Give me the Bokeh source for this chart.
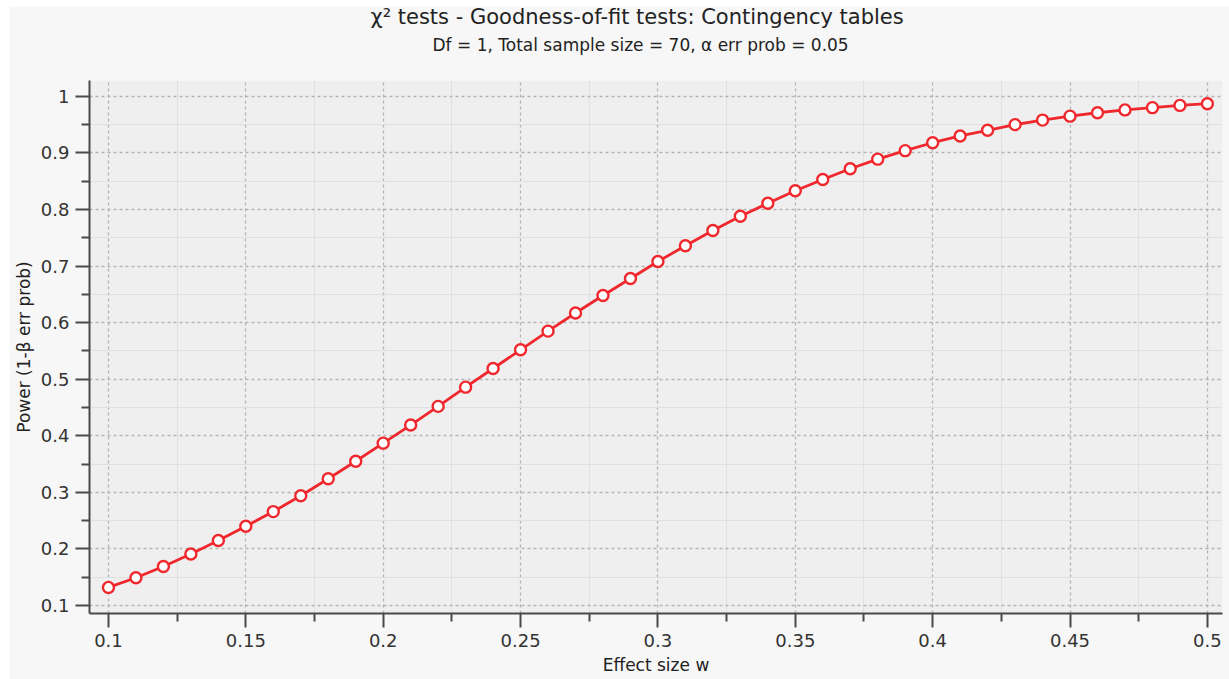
from bokeh.plotting import figure
from bokeh.models import Range1d, FixedTicker, NumeralTickFormatter, Title, Spacer
from bokeh.layouts import column, row
from bokeh.embed import file_html
from bokeh.resources import INLINE

effect_size = [0.10, 0.11, 0.12, 0.13, 0.14, 0.15, 0.16, 0.17, 0.18, 0.19,
               0.20, 0.21, 0.22, 0.23, 0.24, 0.25, 0.26, 0.27, 0.28, 0.29,
               0.30, 0.31, 0.32, 0.33, 0.34, 0.35, 0.36, 0.37, 0.38, 0.39,
               0.40, 0.41, 0.42, 0.43, 0.44, 0.45, 0.46, 0.47, 0.48, 0.49, 0.50]
power = [0.132, 0.149, 0.169, 0.191, 0.215, 0.240, 0.266, 0.294, 0.324, 0.355,
         0.387, 0.419, 0.452, 0.486, 0.519, 0.552, 0.585, 0.617, 0.648, 0.678,
         0.708, 0.736, 0.763, 0.788, 0.811, 0.833, 0.853, 0.872, 0.889, 0.904,
         0.918, 0.930, 0.940, 0.950, 0.958, 0.965, 0.971, 0.976, 0.980, 0.984, 0.987]

x_ticks = [0.1, 0.15, 0.2, 0.25, 0.3, 0.35, 0.4, 0.45, 0.5]
x_minor = [0.125, 0.175, 0.225, 0.275, 0.325, 0.375, 0.425, 0.475]
y_ticks = [0.1, 0.2, 0.3, 0.4, 0.5, 0.6, 0.7, 0.8, 0.9, 1.0]
y_minor = [0.15, 0.25, 0.35, 0.45, 0.55, 0.65, 0.75, 0.85, 0.95]

main_title = "\u03c7\u00b2 tests - Goodness-of-fit tests: Contingency tables"
sub_title = "Df = 1, Total sample size = 70, \u03b1 err prob = 0.05"

FONT = "DejaVu Sans"
RED = "#f0282d"
AXIS = "#4a4a4a"

p = figure(width=1220, height=673, output_backend="svg", toolbar_location=None,
           title=None,
           x_range=Range1d(0.0931, 0.5055), y_range=Range1d(0.0859, 1.028),
           min_border_left=80, min_border_right=7, min_border_top=74,
           min_border_bottom=66)

# blank gap between the plot frame and the subtitle
p.add_layout(Title(text=" ", text_font=FONT, text_font_size="10px",
                   standoff=3), "above")
p.add_layout(Title(text=sub_title, align="left", offset=343, text_font=FONT,
                   text_font_size="17px", text_font_style="normal",
                   text_color="#222222", standoff=20), "above")
p.add_layout(Title(text=main_title, align="left", offset=281, text_font=FONT,
                   text_font_size="21px", text_font_style="normal",
                   text_color="#222222", standoff=-13.5), "above")

p.background_fill_color = "#efefef"
p.border_fill_color = "#f7f7f7"
p.outline_line_color = None

for ax in (p.xaxis[0], p.yaxis[0]):
    ax.axis_line_color = AXIS
    ax.axis_line_width = 2
    ax.major_tick_line_color = AXIS
    ax.major_tick_line_width = 2
    ax.minor_tick_line_color = AXIS
    ax.minor_tick_line_width = 2
    ax.major_tick_in = 0
    ax.major_tick_out = 14
    ax.minor_tick_in = 0
    ax.minor_tick_out = 8
    ax.major_label_text_font = FONT
    ax.major_label_text_font_size = "18px"
    ax.major_label_text_color = "#333333"
    ax.axis_label_text_font = FONT
    ax.axis_label_text_font_size = "17px"
    ax.axis_label_text_font_style = "normal"
    ax.axis_label_text_color = "#222222"

p.xaxis.ticker = FixedTicker(ticks=x_ticks, minor_ticks=x_minor)
p.yaxis.ticker = FixedTicker(ticks=y_ticks, minor_ticks=y_minor)
p.xaxis.formatter = NumeralTickFormatter(format="0.[00]")
p.yaxis.formatter = NumeralTickFormatter(format="0.[00]")
p.xaxis.axis_label = "Effect size w"
p.yaxis.axis_label = "Power (1-\u03b2 err prob)"
p.xaxis.major_label_standoff = 6
p.xaxis.axis_label_standoff = 5
p.yaxis.major_label_standoff = 6
p.yaxis.axis_label_standoff = 4

for g in (p.xgrid[0], p.ygrid[0]):
    g.grid_line_color = "#b4b4b4"
    g.grid_line_dash = "3 3"
    g.grid_line_width = 1.3
    g.minor_grid_line_color = "#e0e0e0"
    g.minor_grid_line_width = 1

p.line(effect_size, power, line_color=RED, line_width=2.8)
p.scatter(effect_size, power, size=11, fill_color="white", line_color=RED,
          line_width=2.4)

layout = column(Spacer(height=6), row(Spacer(width=9), p))

open("out.html", "w").write(file_html(layout, INLINE))
